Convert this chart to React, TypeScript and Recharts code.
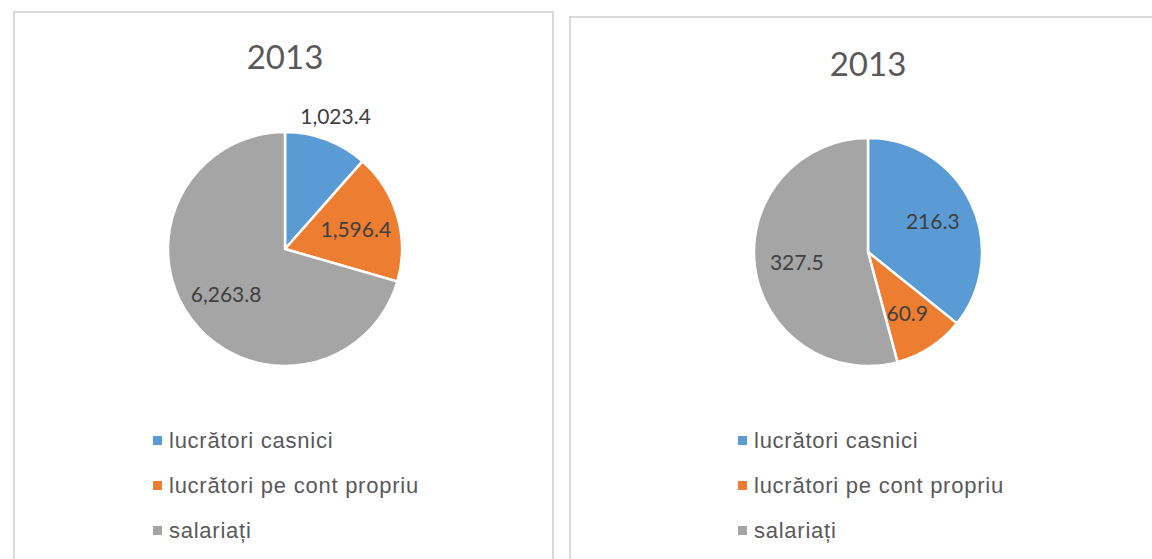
import { Legend, Pie, PieChart } from "recharts";

const categories = ["lucrători casnici", "lucrători pe cont propriu", "salariați"];
const leftValues = [1023.4, 1596.4, 6263.8];
const rightValues = [216.3, 60.9, 327.5];
const leftTitle = "2013";
const rightTitle = "2013";

const COLORS = ["#5B9BD5", "#ED7D31", "#A5A5A5"];
const RAD = Math.PI / 180;
const LABEL_FONT = "Lato, 'Open Sans', sans-serif";
const LEGEND_FONT = "'Liberation Sans', Arial, sans-serif";

const fmt = (v: number) =>
  v.toLocaleString("en-US", { minimumFractionDigits: 1, maximumFractionDigits: 1 });

// rough text width so small slices push their label outside (Excel "best fit")
const textWidth = (s: string, size: number) =>
  s.split("").reduce((w, ch) => w + (/[0-9]/.test(ch) ? 0.58 : 0.25), 0) * size;

function renderLabel(props: any) {
  const { cx, cy, midAngle, outerRadius, value, percent } = props;
  const text = fmt(value);
  const inner = outerRadius * 0.63;
  const span = percent * 2 * Math.PI;
  const chord = 2 * inner * Math.sin(Math.min(span, Math.PI) / 2);
  const r = textWidth(text, 21) > chord ? outerRadius * 1.22 : inner;
  const x = cx + r * Math.cos(-midAngle * RAD);
  const y = cy + r * Math.sin(-midAngle * RAD);
  return (
    <text x={x} y={y} fill="#404040" fontSize={21} fontFamily={LABEL_FONT} textAnchor="middle" dominantBaseline="central">
      {text}
    </text>
  );
}

function LegendList() {
  return (
    <div>
      {categories.map((name, i) => (
        <div key={name} style={{ display: "flex", alignItems: "center", height: 45 }}>
          <span style={{ width: 9, height: 9, background: COLORS[i], marginRight: 7, marginLeft: 2 }} />
          <span
            style={{
              fontFamily: LEGEND_FONT,
              fontSize: 22,
              letterSpacing: 0.75,
              color: "#595959",
              lineHeight: "22px",
            }}
          >
            {name}
          </span>
        </div>
      ))}
    </div>
  );
}

type PanelProps = {
  title: string;
  values: number[];
  left: number;
  top: number;
  width: number;
  cx: number;
  cy: number;
  radius: number;
  titleY: number;
  legendX: number;
  legendY: number;
};

function Panel({ title, values, left, top, width, cx, cy, radius, titleY, legendX, legendY }: PanelProps) {
  const data = categories.map((name, i) => ({ name, value: values[i], fill: COLORS[i] }));
  const height = 600;
  return (
    <div
      style={{
        position: "absolute",
        left,
        top,
        width,
        height,
        boxSizing: "border-box",
        border: "2px solid #d9d9d9",
        background: "#fff",
      }}
    >
      <div
        style={{
          position: "absolute",
          left: 0,
          width: cx * 2,
          top: titleY - 20,
          height: 40,
          lineHeight: "40px",
          textAlign: "center",
          fontFamily: LABEL_FONT,
          fontSize: 33,
          color: "#595959",
        }}
      >
        {title}
      </div>
      <PieChart width={width - 4} height={height - 4} margin={{ top: 0, right: 0, bottom: 0, left: 0 }}>
        <Pie
          data={data}
          dataKey="value"
          nameKey="name"
          cx={cx}
          cy={cy}
          outerRadius={radius}
          startAngle={90}
          endAngle={-270}
          stroke="#fff"
          strokeWidth={2.5}
          label={renderLabel}
          labelLine={false}
          isAnimationActive={false}
        />
        <Legend
          content={() => <LegendList />}
          wrapperStyle={{ position: "absolute", left: legendX, top: legendY - 22, width: 440 }}
        />
      </PieChart>
    </div>
  );
}

export default function App() {
  return (
    <div style={{ position: "absolute", left: 0, top: 0, width: 1152, height: 559, overflow: "hidden", background: "#fff" }}>
      <Panel
        title={leftTitle}
        values={leftValues}
        left={13}
        top={11}
        width={541}
        cx={270}
        cy={236}
        radius={117}
        titleY={43}
        legendX={136}
        legendY={427}
      />
      <Panel
        title={rightTitle}
        values={rightValues}
        left={569}
        top={16}
        width={602}
        cx={297}
        cy={234}
        radius={114}
        titleY={45}
        legendX={165}
        legendY={422}
      />
    </div>
  );
}
